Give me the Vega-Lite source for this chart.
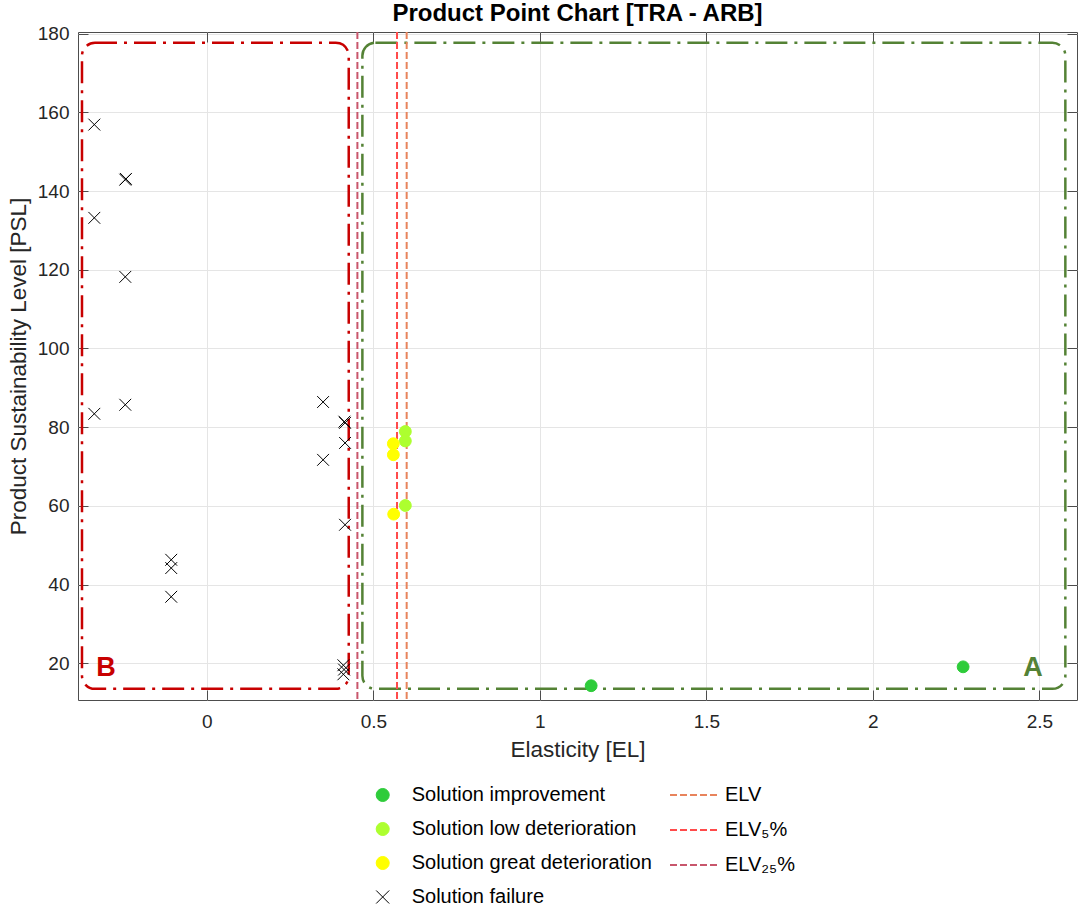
{
  "$schema": "https://vega.github.io/schema/vega-lite/v6.json",
  "width": 999,
  "height": 668,
  "autosize": {"type": "none"},
  "padding": {"left": 78, "top": 32, "right": 1, "bottom": 208},
  "title": {
    "text": "Product Point Chart [TRA - ARB]",
    "fontSize": 24,
    "fontWeight": "bold",
    "color": "#000000",
    "anchor": "middle",
    "offset": -1
  },
  "datasets": {
    "solutions": [
      {"el": 1.154, "psl": 14.3, "category": "Solution improvement"},
      {"el": 2.271, "psl": 19.1, "category": "Solution improvement"},
      {"el": 0.596, "psl": 78.9, "category": "Solution low deterioration"},
      {"el": 0.596, "psl": 76.5, "category": "Solution low deterioration"},
      {"el": 0.596, "psl": 60.1, "category": "Solution low deterioration"},
      {"el": 0.560, "psl": 75.8, "category": "Solution great deterioration"},
      {"el": 0.560, "psl": 73.0, "category": "Solution great deterioration"},
      {"el": 0.561, "psl": 57.9, "category": "Solution great deterioration"},
      {"el": -0.338, "psl": 156.9, "category": "Solution failure"},
      {"el": -0.338, "psl": 133.2, "category": "Solution failure"},
      {"el": -0.338, "psl": 83.4, "category": "Solution failure"},
      {"el": -0.245, "psl": 142.9, "category": "Solution failure"},
      {"el": -0.243, "psl": 143.1, "category": "Solution failure"},
      {"el": -0.245, "psl": 118.2, "category": "Solution failure"},
      {"el": -0.245, "psl": 85.7, "category": "Solution failure"},
      {"el": -0.107, "psl": 46.3, "category": "Solution failure"},
      {"el": -0.107, "psl": 44.2, "category": "Solution failure"},
      {"el": -0.107, "psl": 36.9, "category": "Solution failure"},
      {"el": 0.349, "psl": 86.4, "category": "Solution failure"},
      {"el": 0.349, "psl": 71.7, "category": "Solution failure"},
      {"el": 0.415, "psl": 81.1, "category": "Solution failure"},
      {"el": 0.413, "psl": 81.4, "category": "Solution failure"},
      {"el": 0.415, "psl": 76.0, "category": "Solution failure"},
      {"el": 0.415, "psl": 55.2, "category": "Solution failure"},
      {"el": 0.410, "psl": 19.5, "category": "Solution failure"},
      {"el": 0.412, "psl": 18.4, "category": "Solution failure"},
      {"el": 0.410, "psl": 17.2, "category": "Solution failure"}
    ],
    "thresholds": [
      {"elv": 0.600, "line": "ELV"},
      {"elv": 0.571, "line": "ELV₅%"},
      {"elv": 0.452, "line": "ELV₂₅%"}
    ],
    "regions": [
      {"region": "A", "x0": 0.467, "x1": 2.578, "y0": 13.5, "y1": 177.7, "lx": 2.481, "ly": 18.7},
      {"region": "B", "x0": -0.375, "x1": 0.426, "y0": 13.5, "y1": 177.7, "lx": -0.303, "ly": 18.7}
    ]
  },
  "layer": [
    {
      "data": {"name": "regions"},
      "transform": [{"filter": "datum.region == 'B'"}],
      "mark": {"type": "rect", "filled": false, "stroke": "#C80000", "strokeWidth": 2.5, "strokeDash": [22, 7, 3, 7], "cornerRadius": 13},
      "encoding": {
        "x": {"field": "x0", "type": "quantitative", "scale": {"domain": [-0.387, 2.613], "nice": false, "zero": false},
              "axis": {"orient": "top", "values": [0, 0.5, 1, 1.5, 2, 2.5], "labels": false, "grid": false, "title": null, "domain": false}},
        "x2": {"field": "x1"},
        "y": {"field": "y0", "type": "quantitative", "scale": {"domain": [10.67, 180.43], "nice": false, "zero": false},
              "axis": {"orient": "right", "values": [20, 40, 60, 80, 100, 120, 140, 160, 180], "labels": false, "grid": false, "title": null, "domain": false}},
        "y2": {"field": "y1"}
      }
    },
    {
      "data": {"name": "regions"},
      "transform": [{"filter": "datum.region == 'A'"}],
      "mark": {"type": "rect", "filled": false, "stroke": "#548235", "strokeWidth": 2.5, "strokeDash": [22, 7, 3, 7], "cornerRadius": 13},
      "encoding": {
        "x": {"field": "x0", "type": "quantitative", "scale": {"domain": [-0.387, 2.613], "nice": false, "zero": false}, "axis": null},
        "x2": {"field": "x1"},
        "y": {"field": "y0", "type": "quantitative", "scale": {"domain": [10.67, 180.43], "nice": false, "zero": false}, "axis": null},
        "y2": {"field": "y1"}
      }
    },
    {
      "data": {"name": "regions"},
      "transform": [{"filter": "datum.region == 'B'"}],
      "mark": {"type": "text", "fontSize": 27, "fontWeight": "bold", "color": "#C80000", "align": "center", "baseline": "middle"},
      "encoding": {
        "x": {"field": "lx", "type": "quantitative", "axis": null},
        "y": {"field": "ly", "type": "quantitative", "axis": null},
        "text": {"field": "region"}
      }
    },
    {
      "data": {"name": "regions"},
      "transform": [{"filter": "datum.region == 'A'"}],
      "mark": {"type": "text", "fontSize": 27, "fontWeight": "bold", "color": "#548235", "align": "center", "baseline": "middle"},
      "encoding": {
        "x": {"field": "lx", "type": "quantitative", "axis": null},
        "y": {"field": "ly", "type": "quantitative", "axis": null},
        "text": {"field": "region"}
      }
    },
    {
      "data": {"name": "thresholds"},
      "mark": {"type": "rule", "strokeWidth": 2, "strokeDash": [7, 3]},
      "encoding": {
        "x": {"field": "elv", "type": "quantitative", "axis": null},
        "color": {
          "field": "line",
          "type": "nominal",
          "scale": {"domain": ["ELV", "ELV₅%", "ELV₂₅%"], "range": ["#E8845C", "#FF4B4B", "#C8566C"]},
          "legend": {
            "title": null,
            "orient": "none",
            "legendX": 591,
            "legendY": 753,
            "direction": "vertical",
            "labelFontSize": 20,
            "labelColor": "#000000",
            "labelOffset": 4,
            "labelLimit": 400,
            "symbolType": "stroke",
            "symbolSize": 2500,
            "symbolStrokeWidth": 2,
            "symbolDash": [7, 3],
            "clipHeight": 20,
            "rowPadding": 15,
            "padding": 0
          }
        }
      }
    },
    {
      "data": {"name": "solutions"},
      "mark": {"type": "point", "filled": true, "size": 140, "strokeWidth": 1, "opacity": 1},
      "encoding": {
        "x": {"field": "el", "type": "quantitative", "scale": {"domain": [-0.387, 2.613], "nice": false, "zero": false},
              "axis": {"values": [0, 0.5, 1, 1.5, 2, 2.5], "format": "~g", "title": "Elasticity [EL]", "grid": true, "labelPadding": 22, "titlePadding": 7}},
        "y": {"field": "psl", "type": "quantitative", "scale": {"domain": [10.67, 180.43], "nice": false, "zero": false},
              "axis": {"values": [20, 40, 60, 80, 100, 120, 140, 160, 180], "title": "Product Sustainability Level [PSL]", "grid": true, "labelPadding": 19, "titlePadding": 7}},
        "fill": {
          "field": "category",
          "type": "nominal",
          "scale": {"domain": ["Solution improvement", "Solution low deterioration", "Solution great deterioration", "Solution failure"],
                    "range": ["#2ECC3A", "#ADFF2F", "#FFFF00", "transparent"]},
          "legend": {
            "title": null,
            "orient": "none",
            "legendX": 294.7,
            "legendY": 753,
            "direction": "vertical",
            "labelFontSize": 20,
            "labelColor": "#000000",
            "labelOffset": 19,
            "labelLimit": 400,
            "symbolSize": 170,
            "symbolStrokeWidth": 1,
            "rowPadding": 14,
            "padding": 0
          }
        },
        "stroke": {
          "field": "category",
          "type": "nominal",
          "scale": {"domain": ["Solution improvement", "Solution low deterioration", "Solution great deterioration", "Solution failure"],
                    "range": ["#2ECC3A", "#ADFF2F", "#FFFF00", "#000000"]}
        },
        "shape": {
          "field": "category",
          "type": "nominal",
          "scale": {"domain": ["Solution improvement", "Solution low deterioration", "Solution great deterioration", "Solution failure"],
                    "range": ["circle", "circle", "circle", "M-1,-1L1,1M1,-1L-1,1"]}
        }
      }
    }
  ],
  "resolve": {"axis": {"x": "independent", "y": "independent"}},
  "config": {
    "font": "Liberation Sans",
    "view": {"stroke": "#4D4D4D", "strokeWidth": 1},
    "axis": {
      "domain": false,
      "ticks": true,
      "tickSize": -10,
      "tickColor": "#4D4D4D",
      "gridColor": "#E5E5E5",
      "gridWidth": 1,
      "labelFont": "Liberation Sans",
      "labelFontSize": 19,
      "labelColor": "#262626",
      "titleFont": "Liberation Sans",
      "titleFontSize": 22.5,
      "titleFontWeight": "normal",
      "titleColor": "#262626"
    },
    "legend": {"labelFont": "Liberation Sans"},
    "title": {"font": "Liberation Sans"}
  }
}
